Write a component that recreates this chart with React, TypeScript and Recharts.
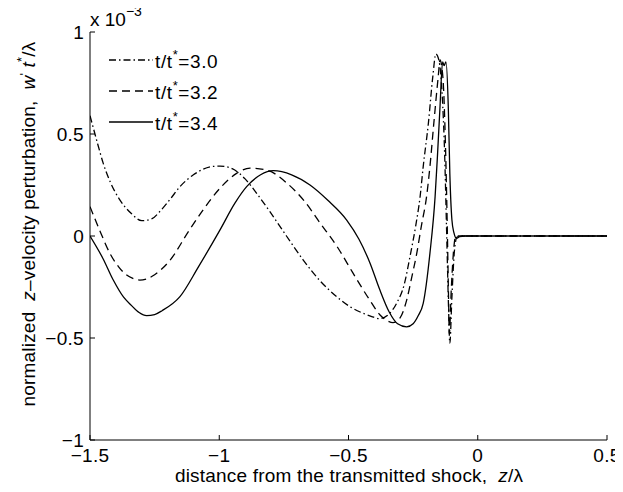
import React from 'react';
import { LineChart, Line, XAxis, YAxis, Legend, Label } from 'recharts';

const FONT = '"Liberation Sans", Arial, Helvetica, sans-serif';

// z/lambda positions and w' t*/lambda values (x 1e-3)
const z30 = [-1.5, -1.47, -1.449, -1.42, -1.384, -1.34, -1.3, -1.26, -1.23, -1.19, -1.152, -1.1, -1.063, -1.03, -0.997, -0.95, -0.9, -0.85, -0.804, -0.74, -0.675, -0.61, -0.546, -0.49, -0.443, -0.41, -0.38, -0.35, -0.314, -0.285, -0.262, -0.24, -0.223, -0.211, -0.191, -0.174, -0.162, -0.15, -0.138, -0.128, -0.12, -0.113, -0.108, -0.1, -0.09, -0.08, -0.06, 0.5];
const w30 = [0.59, 0.45, 0.357, 0.26, 0.176, 0.11, 0.075, 0.085, 0.12, 0.18, 0.242, 0.3, 0.327, 0.34, 0.343, 0.33, 0.28, 0.2, 0.119, 0.0, -0.118, -0.22, -0.297, -0.35, -0.379, -0.395, -0.405, -0.39, -0.33, -0.24, -0.1, 0.05, 0.193, 0.34, 0.552, 0.78, 0.892, 0.86, 0.7, 0.4, 0.0, -0.35, -0.526, -0.3, -0.07, -0.005, 0, 0];

const z32 = [-1.5, -1.46, -1.423, -1.39, -1.36, -1.33, -1.307, -1.28, -1.25, -1.19, -1.12, -1.063, -0.993, -0.933, -0.881, -0.81, -0.739, -0.67, -0.61, -0.54, -0.483, -0.42, -0.378, -0.35, -0.328, -0.3, -0.275, -0.255, -0.236, -0.218, -0.198, -0.185, -0.17, -0.153, -0.146, -0.135, -0.125, -0.118, -0.113, -0.11, -0.102, -0.092, -0.085, -0.06, 0.5];
const w32 = [0.144, 0.02, -0.085, -0.15, -0.19, -0.21, -0.216, -0.21, -0.19, -0.118, 0.02, 0.127, 0.24, 0.307, 0.333, 0.32, 0.26, 0.17, 0.064, -0.06, -0.181, -0.31, -0.387, -0.415, -0.425, -0.4, -0.314, -0.2, -0.085, 0.05, 0.193, 0.34, 0.552, 0.78, 0.863, 0.78, 0.45, 0.05, -0.3, -0.48, -0.25, -0.05, 0, 0, 0];

const z34 = [-1.5, -1.45, -1.41, -1.37, -1.34, -1.31, -1.281, -1.25, -1.22, -1.152, -1.08, -0.997, -0.94, -0.894, -0.84, -0.791, -0.72, -0.649, -0.58, -0.507, -0.46, -0.417, -0.38, -0.343, -0.31, -0.275, -0.25, -0.23, -0.211, -0.185, -0.165, -0.156, -0.146, -0.136, -0.13, -0.123, -0.114, -0.108, -0.1, -0.092, -0.082, -0.07, -0.05, 0.5];
const w34 = [0.0, -0.11, -0.216, -0.3, -0.34, -0.375, -0.39, -0.385, -0.365, -0.297, -0.15, 0.03, 0.16, 0.242, 0.3, 0.32, 0.3, 0.25, 0.175, 0.078, -0.015, -0.132, -0.26, -0.371, -0.43, -0.445, -0.43, -0.39, -0.33, -0.085, 0.193, 0.389, 0.634, 0.854, 0.835, 0.854, 0.634, 0.307, 0.08, 0.015, -0.012, -0.003, 0, 0];

const times = ['3.0', '3.2', '3.4'];
const xTicks = [-1.5, -1, -0.5, 0, 0.5];
const yTicks = [-1, -0.5, 0, 0.5, 1];

const toPoints = (z: number[], w: number[]) => z.map((v, i) => ({ z: v, w: w[i] }));

const series = [
  { key: 't30', data: toPoints(z30, w30), dash: '7 3 1.5 3' },
  { key: 't32', data: toPoints(z32, w32), dash: '8 5' },
  { key: 't34', data: toPoints(z34, w34), dash: undefined },
];

const fmt = (v: number) => (v < 0 ? '\u2212' + String(-v) : String(v));
const blank = () => '';

const tickStyle = { fill: '#000', fontSize: 19, fontFamily: FONT, letterSpacing: 0.3 };

const renderLegend = () => (
  <svg width={200} height={100} style={{ display: 'block' }}>
    {series.map((s, i) => {
      const y = 16 + 31 * i;
      return (
        <g key={s.key}>
          <line x1={5} x2={49} y1={y} y2={y} stroke="#000" strokeWidth={1.3} strokeDasharray={s.dash} />
          <text x={51} y={y + 8} fontSize={19} fontFamily={FONT} fill="#000" letterSpacing={0.6}>
            t/t<tspan dy={-9} fontSize={13}>*</tspan>
            <tspan dy={9}>={times[i]}</tspan>
          </text>
        </g>
      );
    })}
  </svg>
);

const renderXLabel = () => (
  <text x={349} y={482} textAnchor="middle" fontSize={19} fontFamily={FONT} fill="#000" letterSpacing={0.2} style={{ whiteSpace: 'pre' }}>
    {'distance from the transmitted shock,  '}
    <tspan fontStyle="italic">z</tspan>/λ
  </text>
);

const renderYLabel = () => (
  <g>
    <text
      x={35}
      y={224}
      transform="rotate(-90 35 224)"
      textAnchor="middle"
      fontSize={19}
      fontFamily={FONT}
      fill="#000"
      letterSpacing={0.2}
      style={{ whiteSpace: 'pre' }}
    >
      {'normalized  '}
      <tspan fontStyle="italic">z</tspan>
      {'\u2013velocity perturbation,  '}
      <tspan fontStyle="italic">w</tspan>
      <tspan dy={-6} fontSize={13}>{'\''}</tspan>
      <tspan dy={6}> </tspan>
      <tspan fontStyle="italic">t</tspan>
      <tspan dy={-9} fontSize={13}>*</tspan>
      <tspan dy={9}>/λ</tspan>
    </text>
    <text x={90} y={26} fontSize={19} fontFamily={FONT} fill="#000">
      x 10<tspan dy={-10} fontSize={14}>{'\u22123'}</tspan>
    </text>
  </g>
);

export default function App() {
  return (
    <div style={{ margin: -8 }}>
      <LineChart width={623} height={492} margin={{ top: 32, right: 16, bottom: 22, left: 40 }}>
        <XAxis
          dataKey="z"
          type="number"
          domain={[-1.5, 0.5]}
          ticks={xTicks}
          allowDataOverflow
          height={30}
          tickFormatter={fmt}
          tick={tickStyle}
          tickSize={-5}
          tickMargin={14}
          stroke="#000"
        >
          <Label content={renderXLabel} />
        </XAxis>
        <XAxis
          xAxisId="top"
          orientation="top"
          dataKey="z"
          type="number"
          domain={[-1.5, 0.5]}
          ticks={xTicks}
          allowDataOverflow
          height={0}
          tickFormatter={blank}
          tickSize={-5}
          stroke="#000"
        />
        <YAxis
          type="number"
          domain={[-1, 1]}
          ticks={yTicks}
          allowDataOverflow
          width={50}
          tickFormatter={fmt}
          tick={tickStyle}
          tickSize={-5}
          tickMargin={11}
          stroke="#000"
        >
          <Label content={renderYLabel} />
        </YAxis>
        <YAxis
          yAxisId="right"
          orientation="right"
          type="number"
          domain={[-1, 1]}
          ticks={yTicks}
          allowDataOverflow
          width={0}
          tickFormatter={blank}
          tickSize={-5}
          stroke="#000"
        />
        <Legend
          layout="vertical"
          align="center"
          verticalAlign="middle"
          content={renderLegend}
          wrapperStyle={{ left: 104, top: 44, width: 200 }}
        />
        {series.map((s) => (
          <Line
            key={s.key}
            data={s.data}
            dataKey="w"
            type="monotone"
            stroke="#000"
            strokeWidth={1.3}
            strokeDasharray={s.dash}
            dot={false}
            activeDot={false}
            isAnimationActive={false}
          />
        ))}
      </LineChart>
    </div>
  );
}
